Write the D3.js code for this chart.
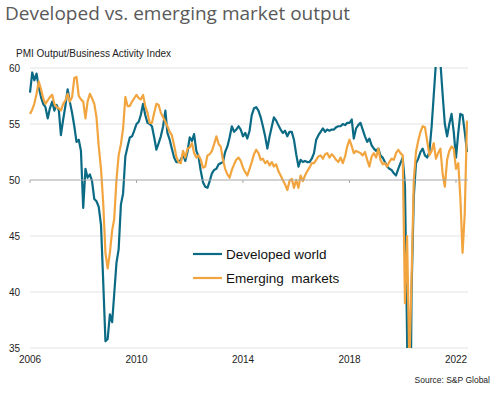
<!DOCTYPE html>
<html>
<head>
<meta charset="utf-8">
<script src="https://cdn.jsdelivr.net/npm/d3@7"></script>
<style>
  html, body { margin: 0; padding: 0; background: #fff; }
  svg { display: block; font-family: "Liberation Sans", Arial, sans-serif; }
</style>
</head>
<body>
<svg id="chart" width="503" height="393"></svg>
<script>
// ============ data (monthly, Jan 2006 - Jun 2022) ============
const startYear = 2006;

const developed = [
  57.8, 59.6, 58.9, 59.5, 58.3, 57.4, 56.8, 56.5, 55.5, 56.4, 57.0, 56.2, // 2006
  56.7, 56.2, 54.0, 55.4, 56.6, 58.1, 57.0, 56.0, 54.8, 53.4, 53.6, 52.6, // 2007
  47.5, 51.0, 50.2, 50.5, 49.9, 48.3, 48.1, 47.6, 46.0, 41.0, 35.6, 35.8, // 2008
  38.0, 37.3, 39.8, 42.6, 43.8, 47.8, 48.8, 52.1, 53.0, 53.8, 53.9, 54.4, // 2009
  55.0, 55.2, 55.8, 56.8, 55.8, 55.1, 55.0, 54.8, 53.8, 52.7, 53.3, 53.9, // 2010
  54.8, 56.2, 54.2, 53.6, 52.8, 52.0, 51.6, 51.6, 51.8, 52.3, 51.7, 52.5, // 2011
  53.8, 53.5, 54.1, 52.6, 52.1, 50.8, 49.8, 49.4, 49.3, 49.9, 50.6, 50.9, // 2012
  51.0, 51.4, 51.5, 51.6, 52.5, 53.0, 53.8, 54.8, 54.3, 54.5, 54.8, 54.5, // 2013
  53.9, 54.2, 53.7, 54.4, 55.8, 56.4, 56.5, 56.2, 55.6, 54.8, 53.9, 52.8, // 2014
  53.9, 54.8, 55.6, 55.3, 54.9, 54.5, 54.2, 54.4, 53.9, 54.3, 54.3, 53.6, // 2015
  52.3, 51.2, 51.8, 51.6, 51.7, 51.6, 51.6, 51.9, 52.4, 53.6, 54.0, 54.3, // 2016
  54.6, 54.3, 54.5, 54.4, 54.5, 54.5, 54.7, 54.8, 54.8, 55.0, 54.9, 55.1, // 2017
  55.1, 55.4, 53.7, 54.6, 54.9, 55.1, 54.5, 53.9, 53.4, 53.7, 53.1, 52.8, // 2018
  52.6, 52.8, 52.2, 52.0, 51.6, 51.2, 51.0, 50.9, 50.6, 50.4, 51.0, 51.5, // 2019
  52.0, 49.5, 36.0, 15.0, 40.0, 48.5, 51.5, 51.9, 52.5, 52.8, 52.2, 52.0, // 2020
  52.5, 54.8, 57.5, 60.5, 61.5, 60.5, 57.7, 55.0, 53.9, 55.0, 55.9, 54.3, // 2021
  52.0, 54.2, 55.9, 55.8, 54.3, 52.5                                      // 2022
];

const emerging = [
  55.9, 56.3, 56.8, 57.7, 58.8, 58.1, 57.3, 56.8, 57.1, 57.4, 57.6, 56.8, // 2006
  56.5, 56.4, 56.2, 56.8, 57.1, 57.7, 57.0, 57.4, 59.1, 59.2, 57.5, 57.2, // 2007
  57.0, 55.5, 57.0, 57.7, 57.3, 56.8, 55.6, 53.0, 51.0, 48.0, 43.5, 42.1, // 2008
  43.5, 45.5, 46.5, 50.0, 52.2, 53.2, 54.6, 57.4, 56.6, 56.6, 57.0, 57.3, // 2009
  57.6, 57.3, 57.2, 57.6, 56.6, 56.0, 55.1, 55.1, 56.0, 56.8, 56.7, 56.0, // 2010
  55.6, 55.2, 54.8, 54.3, 54.0, 53.1, 52.1, 51.6, 51.5, 52.6, 52.0, 52.8, // 2011
  52.9, 53.3, 52.4, 52.0, 52.2, 51.8, 51.1, 51.2, 52.2, 52.3, 52.6, 53.2, // 2012
  53.9, 53.2, 53.0, 51.8, 51.0, 50.5, 50.2, 50.9, 51.4, 51.8, 52.0, 51.7, // 2013
  51.1, 50.7, 50.4, 51.0, 51.6, 52.3, 52.7, 52.4, 51.8, 51.9, 51.5, 51.7, // 2014
  51.3, 51.6, 51.2, 51.4, 50.8, 50.4, 50.0, 49.6, 49.1, 49.9, 50.1, 49.3, // 2015
  50.0, 49.3, 50.4, 49.9, 50.4, 50.8, 51.1, 51.5, 51.5, 51.8, 52.1, 52.2, // 2016
  51.9, 52.3, 52.4, 52.0, 52.3, 52.1, 51.8, 51.6, 52.0, 51.5, 52.1, 53.0, // 2017
  53.6, 53.0, 52.4, 52.6, 52.5, 52.4, 52.2, 52.5, 51.8, 51.2, 52.1, 52.4, // 2018
  52.0, 52.8, 51.8, 51.4, 51.5, 51.2, 51.6, 51.9, 51.8, 52.4, 52.7, 52.4, // 2019
  52.2, 39.0, 45.0, 33.5, 41.0, 50.0, 52.5, 53.5, 54.3, 54.8, 54.7, 53.5, // 2020
  52.2, 52.6, 53.3, 51.9, 52.4, 52.8, 50.6, 49.4, 51.8, 52.6, 53.0, 52.8, // 2021
  51.0, 51.5, 48.5, 43.5, 47.0, 55.3                                      // 2022
];

const seriesNames = ["Developed world", "Emerging  markets"];
const seriesColors = ["#0b6a84", "#f2a53f"];
const yTicks = [35, 40, 45, 50, 55, 60];
const xTickYears = [2006, 2010, 2014, 2018, 2022];

// ============ layout ============
const svg = d3.select('#chart');
const plotLeft = 30, plotRight = 468, plotTop = 68, plotBottom = 348;

const x = d3.scaleTime()
  .domain([new Date(2006, 0, 1), new Date(2022, 0, 1)])
  .range([30, 456]);

const y = d3.scaleLinear()
  .domain([35, 60])
  .range([plotBottom, plotTop]);

const monthDate = i => new Date(startYear, i, 1);

// title + subtitle
svg.append('text')
  .attr('x', 5).attr('y', 20)
  .attr('font-family', '"Open Sans", sans-serif')
  .attr('font-size', 19)
  .attr('fill', '#595959')
  .text('Developed vs. emerging market output');

svg.append('text')
  .attr('x', 16).attr('y', 56.5)
  .attr('font-size', 10)
  .attr('fill', '#222')
  .text('PMI Output/Business Activity Index');

// gridlines
svg.append('g')
  .selectAll('line')
  .data(yTicks.filter(d => d !== 50))
  .join('line')
  .attr('x1', plotLeft).attr('x2', plotRight)
  .attr('y1', d => y(d)).attr('y2', d => y(d))
  .attr('stroke', '#e3e3e3')
  .attr('stroke-width', 1);

// y labels
svg.append('g')
  .selectAll('text')
  .data(yTicks)
  .join('text')
  .attr('x', 20)
  .attr('y', d => y(d) + 3.5)
  .attr('text-anchor', 'end')
  .attr('font-size', 10)
  .attr('fill', '#222')
  .text(d => d);

// x labels
svg.append('g')
  .selectAll('text')
  .data(xTickYears)
  .join('text')
  .attr('x', d => x(new Date(d, 0, 1)))
  .attr('y', 363)
  .attr('text-anchor', 'middle')
  .attr('font-size', 10)
  .attr('fill', '#222')
  .text(d => d);

// lines, clipped to plot range
svg.append('clipPath').attr('id', 'plot-clip')
  .append('rect')
  .attr('x', 0).attr('y', plotTop - 1)
  .attr('width', 503).attr('height', plotBottom - plotTop + 1);

const line = d3.line()
  .x((d, i) => x(monthDate(i)))
  .y(d => y(d));

const lines = svg.append('g').attr('clip-path', 'url(#plot-clip)');
[developed, emerging].forEach((series, k) => {
  lines.append('path')
    .datum(series)
    .attr('d', line)
    .attr('fill', 'none')
    .attr('stroke', seriesColors[k])
    .attr('stroke-width', 2.2)
    .attr('stroke-linejoin', 'round');
});

// 50 axis line with ticks
svg.append('line')
  .attr('x1', plotLeft).attr('x2', plotRight)
  .attr('y1', y(50)).attr('y2', y(50))
  .attr('stroke', '#a6a6a6')
  .attr('stroke-width', 1);

svg.append('g')
  .selectAll('line')
  .data(xTickYears)
  .join('line')
  .attr('x1', d => x(new Date(d, 0, 1))).attr('x2', d => x(new Date(d, 0, 1)))
  .attr('y1', y(50)).attr('y2', y(50) + 3)
  .attr('stroke', '#a6a6a6');

// legend
const legend = svg.append('g');
seriesNames.forEach((name, k) => {
  const ly = 254 + k * 24;
  legend.append('line')
    .attr('x1', 193).attr('x2', 222)
    .attr('y1', ly).attr('y2', ly)
    .attr('stroke', seriesColors[k])
    .attr('stroke-width', 2.2);
  legend.append('text')
    .attr('x', 226).attr('y', ly + 5)
    .attr('font-size', 13.5)
    .attr('fill', '#111')
    .style('white-space', 'pre')
    .text(name);
});

// source
svg.append('text')
  .attr('x', 490).attr('y', 383)
  .attr('text-anchor', 'end')
  .attr('font-size', 8.5)
  .attr('fill', '#222')
  .text('Source: S&P Global');
</script>
</body>
</html>
